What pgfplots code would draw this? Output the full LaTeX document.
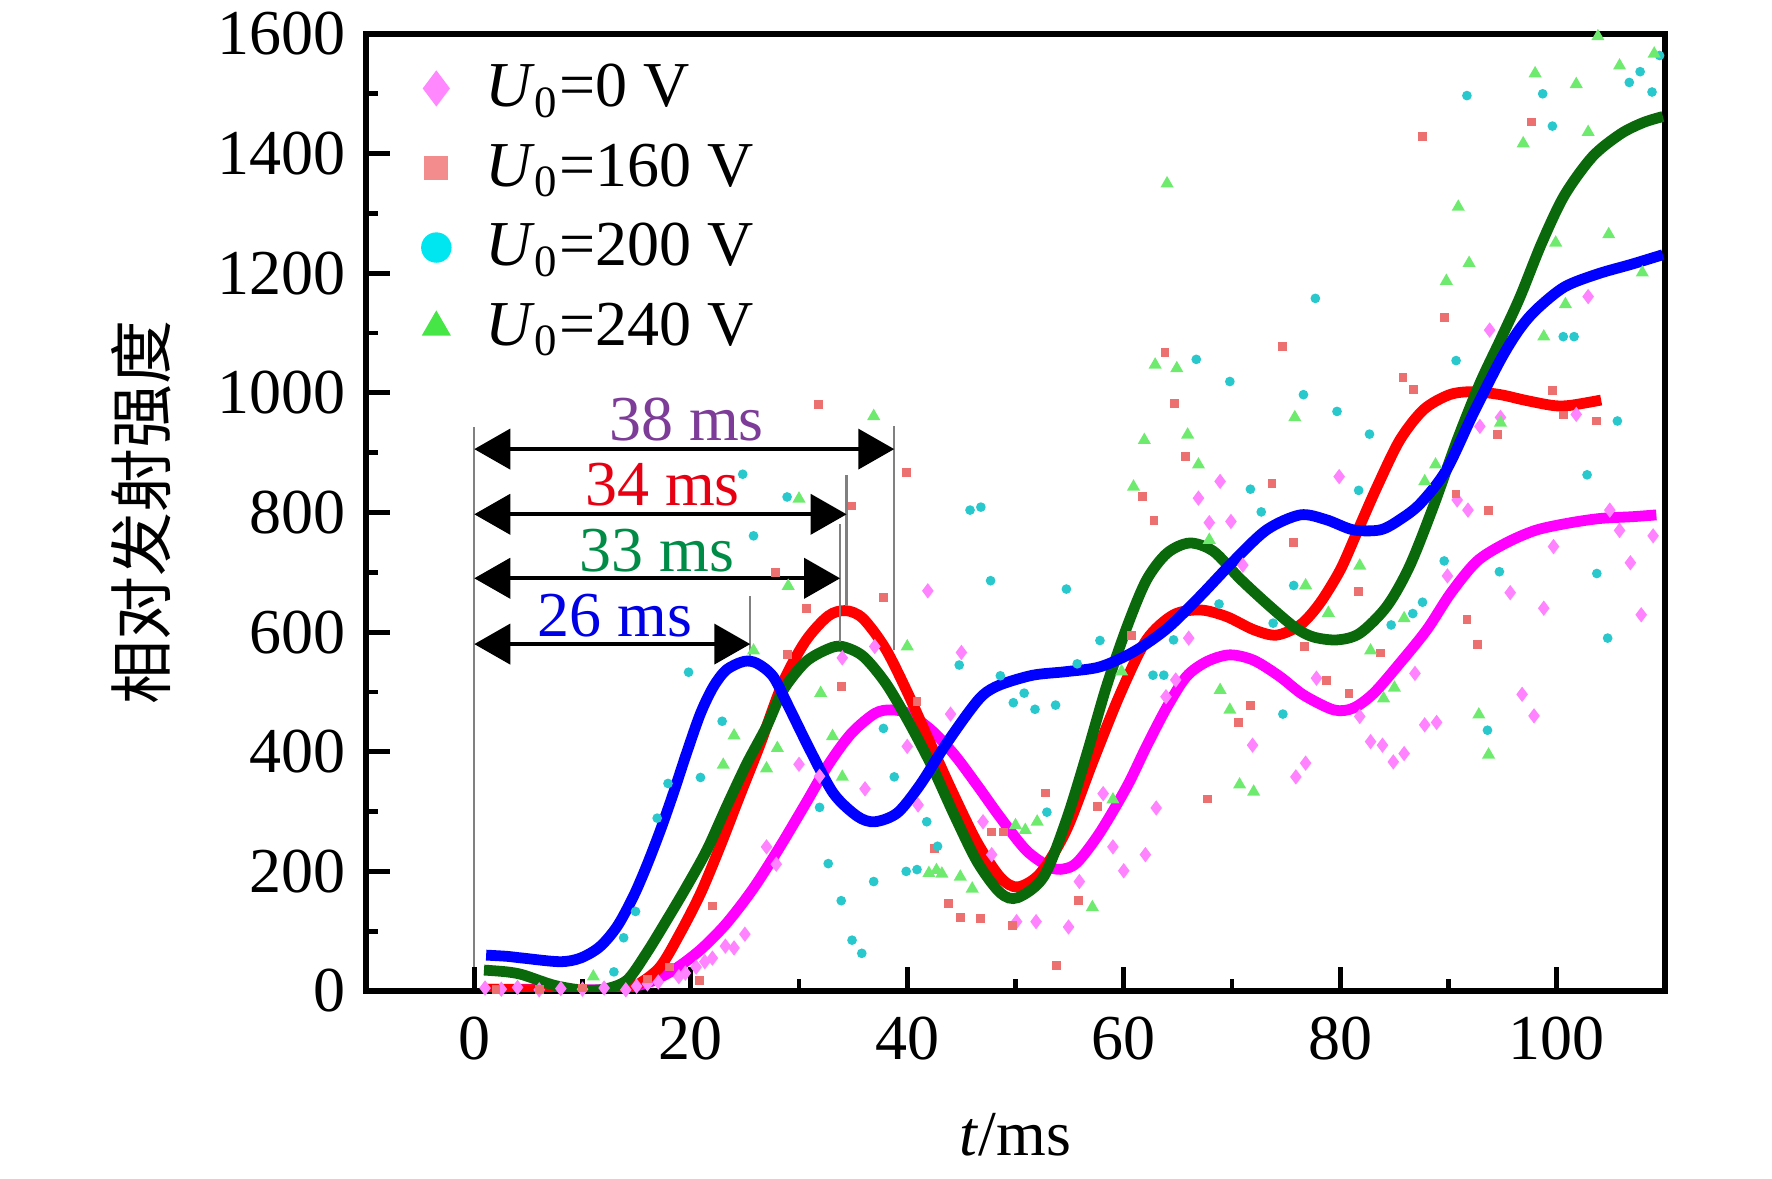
\documentclass[border=0pt]{standalone}
\usepackage{pgfplots}
\pgfplotsset{compat=1.18}
\usetikzlibrary{arrows.meta}
\usepackage{fontspec}
\setmainfont{Liberation Serif}
\newfontfamily\cjk{Noto Sans CJK SC}
\newcommand{\fs}{\fontsize{16}{19}\selectfont}
\definecolor{cmag}{RGB}{255,0,255}
\definecolor{cred}{RGB}{255,0,0}
\definecolor{cblue}{RGB}{0,0,255}
\definecolor{cgreen}{RGB}{10,105,10}
\definecolor{smag}{RGB}{255,130,255}
\definecolor{sred}{RGB}{236,112,112}
\definecolor{scyan}{RGB}{40,200,205}
\definecolor{sgreen}{RGB}{110,235,110}
\definecolor{lmag}{RGB}{255,136,255}
\definecolor{lred}{RGB}{243,140,140}
\definecolor{lcyan}{RGB}{0,230,240}
\definecolor{lgreen}{RGB}{70,230,70}
\definecolor{t38}{RGB}{125,60,152}
\definecolor{t34}{RGB}{230,0,18}
\definecolor{t33}{RGB}{0,140,70}
\definecolor{t26}{RGB}{0,0,230}
\begin{document}
\begin{tikzpicture}
\begin{axis}[
  scale only axis, width=324.75pt, height=239.25pt,
  xmin=-10, xmax=110, ymin=0, ymax=1600,
  xtick={0,20,...,100}, ytick={0,200,...,1600},
  minor x tick num=1, minor y tick num=1,
  tick align=inside, xtick pos=left, ytick pos=left,
  major tick length=6pt, minor tick length=3pt,
  every tick/.style={black, line width=1.2pt},
  axis line style={line width=1.3pt},
  tick label style={font=\fs},
  /pgf/number format/assume math mode=true,
  /pgf/number format/1000 sep={},
  xticklabel style={yshift=-3pt},
  yticklabel style={xshift=-1.5pt},
  xlabel={\textit{t}/ms}, ylabel={{\cjk 相对发射强度}},
  label style={font=\fs},
  xlabel style={at={(rel axis cs:0.5,-0.1505)}, anchor=center},
  ylabel style={at={(rel axis cs:-0.1732,0.5)}, anchor=center},
  legend style={at={(rel axis cs:0.031,0.9756)}, anchor=north west, draw=none, fill=none,
    font=\fs, inner sep=0pt, row sep=4.75pt, nodes={inner sep=1.5pt}},
  legend cell align=left,
  legend image code/.code={\path (-0.25cm,0) (0.37cm,0); \draw[#1] plot coordinates {(0cm,0cm)};},
]
\addlegendimage{only marks, mark=diamond*, mark size=4.2pt, mark options={fill=lmag, draw=lmag}}
\addlegendentry{\textit{U}\textsubscript{0}=0 V}
\addlegendimage{only marks, mark=square*, mark size=2.8pt, mark options={fill=lred, draw=lred}}
\addlegendentry{\textit{U}\textsubscript{0}=160 V}
\addlegendimage{only marks, mark=*, mark size=3.6pt, mark options={fill=lcyan, draw=lcyan}}
\addlegendentry{\textit{U}\textsubscript{0}=200 V}
\addlegendimage{only marks, mark=triangle*, mark size=3.8pt, mark options={fill=lgreen, draw=lgreen}}
\addlegendentry{\textit{U}\textsubscript{0}=240 V}

% scatter: U0=0 V
\addplot[only marks, mark=diamond*, mark size=1.6pt, color=smag, forget plot] coordinates {
(1,5) (2.5,3) (4,6) (6,2) (8,4) (10,3) (12,5) (14,2) (15,8) (16,12) (17,15) (18.9,24) (19.5,30) (20.5,40) (21.3,49) (22,55) (23.2,75) (24,72) (25,95)
(27,241) (27.9,212) (30,379) (31.9,359) (34,557) (36.1,338) (37,576) (40,409) (41,311) (41.9,669) (44,463) (45,566) (47,283) (47.8,228)
(50.1,116) (51.9,116) (54.9,107) (55.9,183) (58.1,330) (59,241) (60,201) (62,228) (63,306) (63.9,492) (64.8,520) (66,590) (66.9,824) (67.9,783)
(68.9,852) (69.9,785) (71,712) (71.9,411) (75.9,358) (76.8,381) (77.8,523) (79.9,860) (81.8,459) (82.8,417) (83.9,411) (84.9,383) (85.9,397)
(86.9,531) (87.8,445) (88.9,449) (89.9,694) (90.8,821) (91.8,804) (92.9,944) (93.8,1105) (94.8,959) (95.7,666) (96.8,496) (97.9,460) (98.8,640)
(99.7,743) (101.8,964) (102.9,1161) (104.9,804) (105.8,770) (106.8,716) (107.8,629) (108.9,761)
};
% scatter: U0=160 V
\addplot[only marks, mark=square*, mark size=0.9pt, color=sred, forget plot] coordinates {
(2,3) (6,2) (10,5) (16,20) (18,40) (20.8,18) (22,142) (27.8,700) (28.9,562) (30.7,640) (31.8,980) (33.9,509) (34.9,811) (37.8,658) (39.9,867)
(40.9,484) (42.5,238) (43.8,146) (44.9,123) (46.8,121) (47.8,266) (48.9,266) (49.7,110) (52.8,331) (53.8,42) (55.8,151) (57.6,308) (60.7,595)
(61.7,827) (62.8,786) (63.8,1068) (64.7,982) (65.7,893) (67.7,321) (70.6,449) (71.7,477) (73.7,848) (74.7,1077) (75.7,750) (76.7,576) (78.7,519)
(80.8,498) (81.7,668) (83.7,565) (85.8,1026) (86.8,1005) (87.6,1428) (89.6,1126) (90.7,831) (91.7,621) (92.7,579) (93.7,803) (94.5,931)
(97.7,1453) (99.6,1004) (100.6,963) (103.7,953)
};
% scatter: U0=200 V
\addplot[only marks, mark=*, mark size=1pt, color=scyan, forget plot] coordinates {
(12.9,32) (13.8,89) (14.9,133) (16.9,289) (17.9,347) (19.8,533) (20.9,357) (22.9,451) (24.8,864) (25.8,761) (28.9,826) (31.9,307) (32.7,213)
(33.9,151) (34.9,85) (35.8,63) (36.9,183) (37.8,439) (38.8,358) (39.9,200) (40.9,203) (41.8,283) (42.8,242) (44.8,545) (45.8,804) (46.8,809)
(47.7,686) (48.6,527) (49.8,482) (50.8,498) (51.8,471) (52.9,299) (53.7,478) (54.7,672) (55.7,547) (57.8,586) (62.7,528) (63.7,528) (64.6,587)
(66.7,1056) (68.8,647) (69.8,1019) (71.7,839) (72.7,801) (73.8,615) (74.7,463) (75.7,678) (76.6,997) (77.7,1158) (79.7,969) (81.7,837) (82.7,931)
(84.7,612) (86.7,631) (87.6,650) (89.6,719) (90.7,1054) (91.7,1497) (93.6,436) (94.7,701) (98.7,1500) (99.6,1446) (100.6,1094) (101.6,1094)
(102.8,863) (103.7,698) (104.7,590) (105.6,953) (106.7,1519) (107.7,1537) (108.8,1503) (109.5,1564)
};
% scatter: U0=240 V
\addplot[only marks, mark=triangle*, mark size=1.5pt, color=sgreen, forget plot] coordinates {
(11,24) (23,378) (24,427) (25.8,569) (27,372) (28,406) (29,677) (30,823) (32,498) (33.1,426) (34,358) (36.9,961) (40,576) (42,197) (42.7,202)
(43.2,196) (44.9,191) (46,171) (50,277) (50.9,269) (52,283) (57.1,140) (59,320) (59.8,534) (60.9,843) (61.9,921) (62.9,1047) (64,1350) (64.9,1041)
(65.9,930) (66.9,880) (67.9,754) (68.9,503) (69.8,470) (70.7,345) (72,333) (75.8,959) (76.8,678) (78.9,632) (81.8,711) (82.8,569) (84,489)
(85,507) (85.9,623) (87.8,852) (88.8,880) (89.8,1187) (90.9,1311) (91.9,1217) (92.8,462) (93.7,395) (94.8,950) (96.9,1417) (98,1534) (98.8,1094)
(99.9,1251) (100.8,1148) (101.8,1516) (102.9,1436) (103.8,1596) (104.8,1265) (105.8,1547) (107.9,1201) (109,1567)
};

% fitted curves
\addplot[cmag, line width=2.7pt, smooth, forget plot] coordinates {
(1,3) (5,3) (10,2) (13,3) (15.9,13) (18.4,35) (20.9,69) (23.3,113) (25.8,172) (28.2,240) (30.6,313) (32.7,378) (34.8,430) (37,464)
(38.5,470) (40.1,464) (42.3,435) (44.4,394) (46.5,343) (48.6,290) (51,235) (53.2,207) (54.4,204) (55.7,215) (57.8,265) (60.3,342) (62.1,409)
(64,475) (65.8,526) (67.7,551) (69.8,562) (72,553) (74.4,526) (76.6,495) (79.4,470) (81.2,473) (83.1,498) (85.5,548) (88,604) (90.2,665)
(92.6,718) (95.2,748) (98,770) (101,782) (104,790) (107,793) (109.2,796)
};
\addplot[cred, line width=2.7pt, smooth, forget plot] coordinates {
(1,3) (5,2) (8,1) (12,1) (14,5) (15.3,13) (17.2,41) (19,96) (20.9,163) (22.7,241) (24.5,325) (26.4,412) (28.5,515) (30.6,585) (32.7,627)
(34.3,636) (35.9,623) (38,572) (40.1,496) (42.3,407) (44.4,324) (46.5,247) (48.6,190) (50.2,174) (52.3,197) (54.7,269) (57.2,386) (59.7,498)
(62.1,587) (64.6,629) (67.1,637) (69.5,626) (72,604) (74.1,595) (76.3,612) (78.1,648) (80,704) (81.5,765) (83.4,843) (85.5,921) (87.7,972)
(90.1,997) (92.3,1002) (94.8,997) (97,988) (99.6,979) (101.2,979) (104.1,988)
};
\addplot[cgreen, line width=2.7pt, smooth, forget plot] coordinates {
(0.9,35) (3,32) (4.5,27) (7.3,10) (9.8,2) (12,3) (14.1,18) (15.9,63) (17.8,119) (19.6,174) (21.5,236) (23.3,308) (25.2,381) (27,442)
(28.5,502) (30.6,550) (32.7,572) (34,576) (35.9,560) (38,515) (40.1,451) (42.3,375) (44.4,292) (46.5,215) (48.6,164) (50.2,156) (52.6,191)
(54.7,286) (56.6,397) (58.4,509) (60.3,609) (62.1,687) (64,732) (66.1,749) (68.3,735) (70.7,690) (73.2,648) (75.8,608) (77.5,592) (79.7,587)
(81.8,598) (84.3,643) (86.4,710) (88.6,810) (90.8,921) (92.9,1016) (94.8,1089) (96.6,1160) (98.6,1250) (100.7,1330) (103.3,1395) (105.9,1433)
(108,1452) (109.8,1462)
};
\addplot[cblue, line width=2.7pt, smooth, forget plot] coordinates {
(1.1,60) (3,58) (4.5,55) (7.9,49) (9.8,55) (11.6,74) (13.2,108) (14.7,158) (15.9,208) (17.2,269) (18.4,331) (19.6,397) (20.9,464) (22.1,509)
(23.3,537) (24.9,551) (26.1,548) (27.6,526) (29,477) (31.1,400) (33.2,330) (35.4,292) (37,283) (39.1,298) (41.2,345) (43.3,405) (45.5,462)
(47,495) (48.6,512) (51.6,528) (54.7,534) (57.8,542) (60.9,567) (64,606) (67,659) (70.1,718) (73.2,771) (76.3,796) (78.7,788) (81.2,771)
(83.7,771) (85.5,788) (87.4,815) (89.8,871) (92.3,966) (94.8,1055) (96.5,1105) (98.1,1139) (100.7,1177) (103.8,1199) (106.9,1215) (109.8,1231)
};

% annotations
\draw[gray, line width=0.6pt] (axis cs:0,40) -- (axis cs:0,943);
\draw[gray, line width=0.6pt] (axis cs:25.5,560) -- (axis cs:25.5,660);
\draw[gray, line width=0.6pt] (axis cs:33.8,584) -- (axis cs:33.8,781);
\draw[gray, line width=0.6pt] (axis cs:34.4,643) -- (axis cs:34.4,863);
\draw[gray, line width=0.6pt] (axis cs:38.8,570) -- (axis cs:38.8,944);
\draw[{Triangle[length=9pt,width=10pt]}-{Triangle[length=9pt,width=10pt]}, line width=1pt] (axis cs:0,906) -- (axis cs:38.8,906);
\draw[{Triangle[length=9pt,width=10pt]}-{Triangle[length=9pt,width=10pt]}, line width=1pt] (axis cs:0,797) -- (axis cs:34.4,797);
\draw[{Triangle[length=9pt,width=10pt]}-{Triangle[length=9pt,width=10pt]}, line width=1pt] (axis cs:0,690) -- (axis cs:33.8,690);
\draw[{Triangle[length=9pt,width=10pt]}-{Triangle[length=9pt,width=10pt]}, line width=1pt] (axis cs:0,580) -- (axis cs:25.5,580);
\node[text=t38, font=\fs, inner sep=0pt] at (axis cs:19.6,955) {38 ms};
\node[text=t34, font=\fs, inner sep=0pt] at (axis cs:17.4,846) {34 ms};
\node[text=t33, font=\fs, inner sep=0pt] at (axis cs:16.9,736) {33 ms};
\node[text=t26, font=\fs, inner sep=0pt] at (axis cs:13,628) {26 ms};
\end{axis}
\pgfresetboundingbox
\path ([xshift=-91.5pt,yshift=-46.75pt]current axis.south west) rectangle ([xshift=26.75pt,yshift=8.5pt]current axis.north east);
\end{tikzpicture}
\end{document}
